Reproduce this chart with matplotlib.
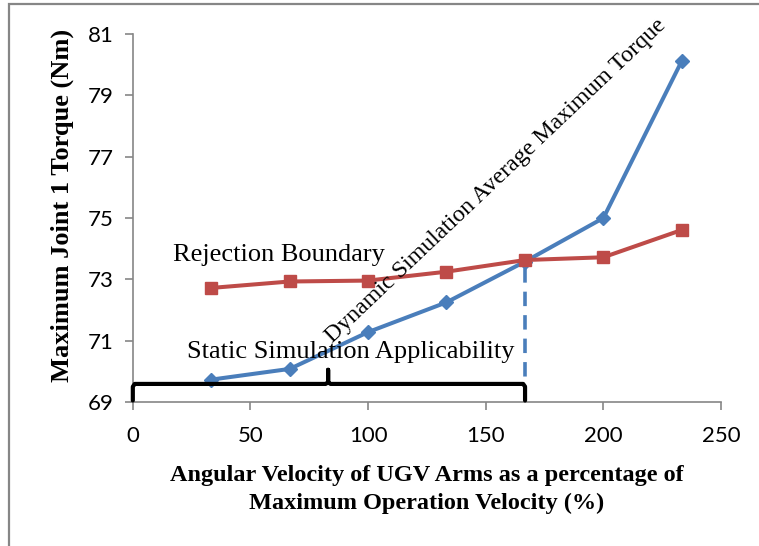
import matplotlib.pyplot as plt
from matplotlib.patches import Rectangle

# data
velocity = [33.3, 66.7, 100, 133.3, 166.7, 200, 233.3]
dynamic_torque = [69.73, 70.08, 71.28, 72.25, 73.58, 75.0, 80.12]
rejection_torque = [72.72, 72.93, 72.96, 73.25, 73.63, 73.72, 74.61]
static_limit = 166.7
yticks = [69, 71, 73, 75, 77, 79, 81]
xticks = [0, 50, 100, 150, 200, 250]

blue = '#4A7EBB'
red = '#BE4B48'
serif = ['Liberation Serif', 'DejaVu Serif']

fig = plt.figure(figsize=(7.59, 5.46), dpi=100)
ax = fig.add_axes([0.175, 0.2637, 0.775, 0.674])

# gray border of the chart area (cut at right/bottom)
fig.patches.append(Rectangle((8.5 / 759, -0.05), 1.2, 1 - 4.5 / 546 + 0.05,
                             transform=fig.transFigure, fill=False,
                             edgecolor='#868686', linewidth=1.6))

ax.plot(velocity, dynamic_torque, color=blue, linewidth=2.9,
        marker='D', markersize=7.5, zorder=3)
ax.plot(velocity, rejection_torque, color=red, linewidth=2.9,
        marker='s', markersize=8, zorder=3)

# dashed line marking limit of static simulation
ax.plot([static_limit, static_limit], [69.05, 73.5], color=blue,
        linewidth=2.6, linestyle=(0, (4, 2.5)), zorder=2)

# bracket under the static region
bx = [0, 0, 0.8, 82, 83, 83, 83, 84, 165.9, static_limit, static_limit]
by = [69.05, 69.5, 69.59, 69.59, 69.65, 70.05, 69.65, 69.59, 69.59, 69.5, 69.05]
ax.plot(bx, by, color='black', linewidth=3, solid_joinstyle='round',
        solid_capstyle='round', clip_on=False, zorder=4)

ax.text(17, 73.8, 'Rejection Boundary', family=serif, fontsize=19,
        va='center', ha='left')
ax.text(23, 70.63, 'Static Simulation Applicability', family=serif,
        fontsize=19, va='center', ha='left')
ax.text(85, 70.9, 'Dynamic Simulation Average Maximum Torque', family=serif,
        fontsize=17.2, rotation=43.5, rotation_mode='anchor', va='baseline',
        ha='left')

ax.set_xlim(0, 250)
ax.set_ylim(69, 81)
ax.set_xticks(xticks)
ax.set_yticks(yticks)
for s in ['top', 'right']:
    ax.spines[s].set_visible(False)
for s in ['left', 'bottom']:
    ax.spines[s].set_color('#868686')
    ax.spines[s].set_linewidth(1.2)
ax.tick_params(direction='out', length=6, width=1.2, color='#868686',
               labelsize=16, pad=8)
for lab in ax.get_xticklabels() + ax.get_yticklabels():
    lab.set_family(['Lato', 'DejaVu Sans'])
ax.tick_params(axis='x', pad=11)

ax.set_ylabel('Maximum Joint 1 Torque (Nm)', family=serif, fontsize=19,
              fontweight='bold')
ax.yaxis.set_label_coords(-0.10, 0.533)
ax.set_xlabel('Angular Velocity of UGV Arms as a percentage of\n'
              'Maximum Operation Velocity (%)', family=serif, fontsize=17.5,
              fontweight='bold', labelpad=14, linespacing=1.4)

fig.savefig('out.png', dpi=100)
